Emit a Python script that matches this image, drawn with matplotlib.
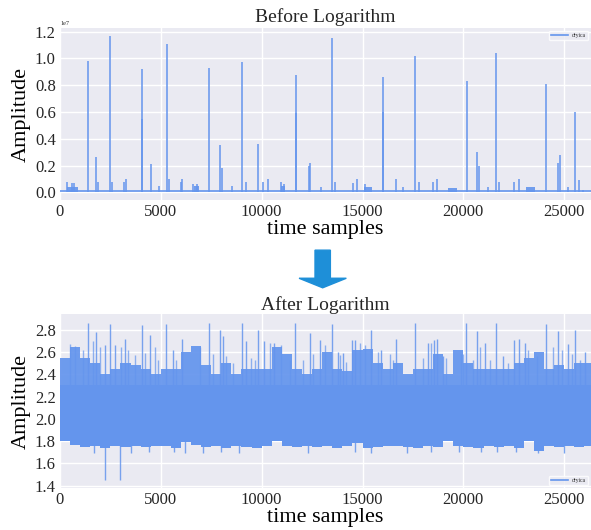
import matplotlib.pyplot as plt
import numpy as np
from matplotlib.patches import FancyArrow

n_samples = 26330
legend_label = "dryica"
line_color = "cornflowerblue"

# ---- before logarithm (values in units of 1e7) ----
before_spike_pos = [330, 600, 700, 1373, 1800, 1870, 2480, 2600, 3180, 3260,
                    4050, 4070, 4500, 4930, 5290, 5420, 6000, 6060, 6600, 6800,
                    7390, 7940, 8010, 8515, 9010, 9210, 9840, 10080, 10300, 10950,
                    11100, 11690, 11700, 12330, 12420, 12930, 13510, 13620, 14530, 14730,
                    15100, 16020, 16030, 16650, 17020, 17610, 17780, 18500, 18700, 20200,
                    20700, 20760, 21210, 21640, 21780, 22520, 22770, 24090, 24690, 24780,
                    25180, 25550, 25740, 25950]
before_spike_amp = [0.08, 0.07, 0.07, 0.98, 0.26, 0.08, 1.17, 0.08, 0.08, 0.10,
                    0.92, 0.55, 0.21, 0.05, 1.11, 0.10, 0.08, 0.10, 0.06, 0.06,
                    0.93, 0.35, 0.18, 0.05, 0.97, 0.08, 0.36, 0.08, 0.10, 0.08,
                    0.06, 0.88, 0.59, 0.20, 0.22, 0.04, 1.15, 0.08, 0.07, 0.10,
                    0.06, 0.86, 0.60, 0.10, 0.04, 1.02, 0.08, 0.08, 0.10, 0.83,
                    0.30, 0.20, 0.04, 1.04, 0.08, 0.08, 0.10, 0.81, 0.22, 0.28,
                    0.04, 0.60, 0.09, 0.02]
before_bump_start = [330, 6650, 10950, 15080, 19250, 23110]
before_bump_end = [900, 6900, 11150, 15480, 19700, 23560]
before_bump_amp = [0.04, 0.05, 0.05, 0.04, 0.03, 0.04]
before_baseline = 0.006

# ---- after logarithm: band envelope per 500-sample block ----
block_len = 500
after_upper = [2.55, 2.64, 2.55, 2.50, 2.40, 2.45, 2.50, 2.48, 2.45, 2.40,
               2.45, 2.45, 2.60, 2.65, 2.48, 2.40, 2.50, 2.40, 2.45, 2.45,
               2.45, 2.64, 2.58, 2.45, 2.40, 2.45, 2.60, 2.45, 2.43, 2.62,
               2.63, 2.50, 2.45, 2.50, 2.40, 2.45, 2.45, 2.58, 2.40, 2.62,
               2.50, 2.45, 2.45, 2.45, 2.45, 2.50, 2.55, 2.60, 2.45, 2.48,
               2.45, 2.50, 2.50]
after_lower = [1.80, 1.77, 1.75, 1.76, 1.74, 1.76, 1.75, 1.76, 1.75, 1.76,
               1.76, 1.74, 1.79, 1.77, 1.75, 1.76, 1.74, 1.76, 1.75, 1.74,
               1.76, 1.80, 1.76, 1.75, 1.76, 1.75, 1.76, 1.74, 1.76, 1.78,
               1.74, 1.75, 1.76, 1.76, 1.75, 1.74, 1.76, 1.75, 1.80, 1.76,
               1.75, 1.74, 1.76, 1.75, 1.76, 1.74, 1.80, 1.71, 1.76, 1.75,
               1.76, 1.75, 1.76]
after_core_top = 2.3
after_spike_pos = [1388, 1800, 2215, 2463, 2711, 3207, 4066, 4479, 5273, 5603,
                   6050, 7388, 7950, 8083, 9041, 9207, 9818, 10099, 10600, 11669,
                   12380, 12876, 13488, 13785, 14033, 14479, 14645, 15438, 15934, 16678,
                   17620, 18248, 18545, 18711, 18992, 20132, 20661, 21074, 21620, 21983,
                   22529, 22777, 23058, 24099, 24711, 25207, 25537, 26033]
after_spike_val = [2.86, 2.78, 2.66, 2.85, 2.66, 2.72, 2.84, 2.75, 2.85, 2.62,
                   2.72, 2.86, 2.80, 2.74, 2.86, 2.70, 2.80, 2.70, 2.68, 2.86,
                   2.77, 2.71, 2.85, 2.60, 2.59, 2.71, 2.71, 2.80, 2.62, 2.72,
                   2.86, 2.68, 2.71, 2.72, 2.56, 2.86, 2.79, 2.68, 2.86, 2.56,
                   2.71, 2.72, 2.68, 2.85, 2.79, 2.67, 2.80, 2.60]
after_strand_pos = [480, 727, 1140, 1636, 1967, 3041, 3372, 3702, 4198, 4694,
                    4860, 5768, 6925, 7587, 8248, 8579, 9488, 9653, 10397, 10975,
                    11388, 12050, 12545, 13124, 13868, 14198, 14860, 15107, 15769, 16347,
                    16512, 18000, 18413, 19157, 19901, 20000, 20496, 20826, 21322, 22231,
                    23223, 23636, 24463, 24876, 25372, 25785]
after_strand_val = [2.67, 2.65, 2.62, 2.70, 2.64, 2.64, 2.62, 2.57, 2.59, 2.64,
                    2.53, 2.53, 2.64, 2.58, 2.56, 2.50, 2.55, 2.53, 2.68, 2.66,
                    2.53, 2.53, 2.58, 2.66, 2.57, 2.51, 2.68, 2.66, 2.60, 2.58,
                    2.53, 2.55, 2.68, 2.55, 2.58, 2.58, 2.53, 2.64, 2.53, 2.50,
                    2.62, 2.56, 2.64, 2.62, 2.58, 2.53]
after_dip_pos = [1700, 2215, 2960, 3500, 4400, 5650, 6200, 7100, 8000, 8900,
                 12300, 14650, 15400, 17200, 18400, 19800, 20900, 21650, 22600, 23700,
                 25000]
after_dip_val = [1.69, 1.45, 1.45, 1.69, 1.70, 1.70, 1.69, 1.69, 1.70, 1.69,
                 1.69, 1.70, 1.69, 1.69, 1.70, 1.70, 1.70, 1.70, 1.70, 1.69,
                 1.69]

plt.rcParams['font.family'] = ['Liberation Serif', 'DejaVu Serif']
plt.rcParams['axes.facecolor'] = '#EAEAF2'
plt.rcParams['axes.edgecolor'] = 'white'
plt.rcParams['grid.color'] = 'white'
plt.rcParams['text.color'] = '#262626'
plt.rcParams['xtick.color'] = '#262626'
plt.rcParams['ytick.color'] = '#262626'

fig = plt.figure(figsize=(5.91, 5.30), dpi=100)
ax1 = fig.add_axes([0.1015, 0.6226, 0.8985, 0.3246])
ax2 = fig.add_axes([0.1015, 0.0792, 0.8985, 0.3283])

for ax in (ax1, ax2):
    ax.set_axisbelow(True)
    ax.grid(True, linewidth=1.0)
    for s in ax.spines.values():
        s.set_visible(False)
    ax.tick_params(length=0, labelsize=12, pad=3)
    ax.set_xlim(0, n_samples)
    ax.set_xticks(np.arange(0, 25001, 5000))
    ax.set_xlabel('time samples', fontsize=16, labelpad=0)
    ax.set_ylabel('Amplitude', fontsize=16, labelpad=3)

# top: raw signal
base_line, = ax1.plot([0, n_samples], [before_baseline, before_baseline],
                      color=line_color, linewidth=1.2, label=legend_label)
for start, end, amp in zip(before_bump_start, before_bump_end, before_bump_amp):
    ax1.fill_between([start, end], 0, amp, color=line_color, linewidth=0, alpha=0.9)
ax1.vlines(before_spike_pos, 0, before_spike_amp, color=line_color, linewidth=1.1)
ax1.set_ylim(-0.058, 1.228)
ax1.set_yticks(np.arange(0, 1.21, 0.2))
ax1.yaxis.get_offset_text().set_fontsize(5)
ax1.text(0.0, 1.01, '1e7', transform=ax1.transAxes, fontsize=4.5, ha='left', va='bottom')
ax1.set_title('Before Logarithm', fontsize=14, pad=4)
ax1.legend(handles=[base_line], loc='upper right', fontsize=4, frameon=True,
           facecolor='#EAEAF2', edgecolor='white', handlelength=3)

# bottom: log signal
edges = np.append(np.arange(len(after_upper)) * block_len, n_samples)
upper = np.append(after_upper, after_upper[-1])
lower = np.append(after_lower, after_lower[-1])
ax2.fill_between(edges, after_core_top, upper, step='post', color=line_color,
                 linewidth=0, alpha=0.93)
ax2.fill_between(edges, lower, after_core_top, step='post', color=line_color, linewidth=0)
ax2.vlines(after_strand_pos, after_core_top, after_strand_val, color=line_color,
           linewidth=1.0, alpha=0.7)
ax2.vlines(after_spike_pos, after_core_top, after_spike_val, color=line_color,
           linewidth=1.0, alpha=0.85)
ax2.vlines(after_dip_pos, after_dip_val, 1.9, color=line_color, linewidth=1.0, alpha=0.85)
band_line, = ax2.plot([], [], color=line_color, linewidth=1.2, label=legend_label)
ax2.set_ylim(1.38, 2.94)
ax2.set_yticks(np.arange(1.4, 2.81, 0.2))
ax2.set_yticklabels([f'{v:.1f}' for v in np.arange(1.4, 2.81, 0.2)])
ax2.set_title('After Logarithm', fontsize=14, pad=3)
ax2.legend(handles=[band_line], loc='lower right', fontsize=4, frameon=True,
           facecolor='#EAEAF2', edgecolor='white', handlelength=3)

# arrow between panels
fig.patches.append(FancyArrow(0.546, 0.528, 0, -0.071, width=0.026, head_width=0.08,
                              head_length=0.018, length_includes_head=True,
                              transform=fig.transFigure, color='#1E8FD8'))

fig.savefig('out.png', dpi=100)
